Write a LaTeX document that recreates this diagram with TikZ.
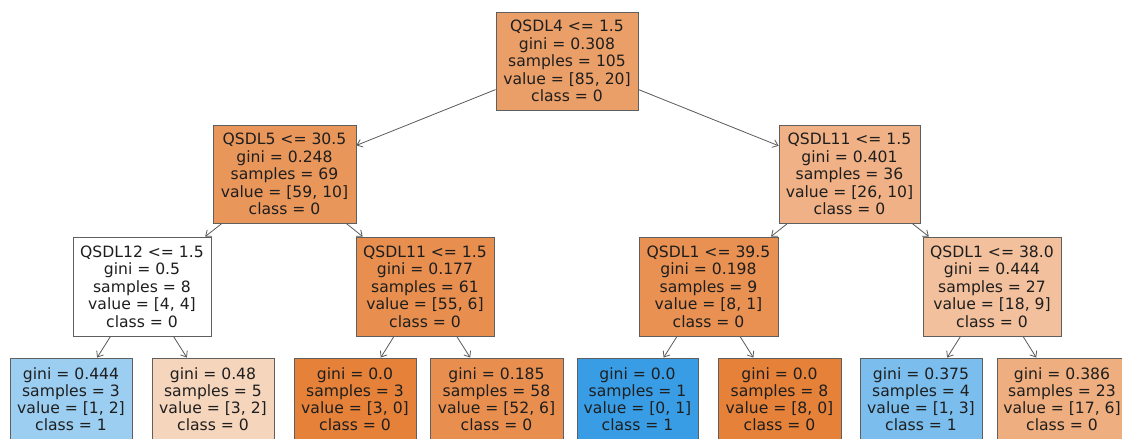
\documentclass[tikz,border=0pt]{standalone}
\usepackage{fontspec}
\setmainfont{DejaVu Sans}
\usetikzlibrary{arrows.meta}
\definecolor{boxgray}{RGB}{95,95,95}
\definecolor{arrgray}{RGB}{90,90,90}
\definecolor{txt}{RGB}{30,30,30}
\definecolor{cRoot}{RGB}{235,159,104}
\definecolor{cA}{RGB}{233,150,91}
\definecolor{cB}{RGB}{239,177,133}
\definecolor{cC}{RGB}{255,255,255}
\definecolor{cD}{RGB}{232,143,79}
\definecolor{cE}{RGB}{232,145,82}
\definecolor{cF}{RGB}{242,192,156}
\definecolor{cL1}{RGB}{156,206,242}
\definecolor{cL2}{RGB}{246,213,189}
\definecolor{cL3}{RGB}{229,129,57}
\definecolor{cL4}{RGB}{232,143,80}
\definecolor{cL5}{RGB}{57,157,229}
\definecolor{cL6}{RGB}{229,129,57}
\definecolor{cL7}{RGB}{123,190,238}
\definecolor{cL8}{RGB}{238,174,127}
\begin{document}
\begin{tikzpicture}[x=1pt,y=-1pt,
  tbox/.style={draw=boxgray, line width=0.9pt, inner sep=0pt, align=center,
    font=\fontsize{15.6}{17.5}\selectfont, text=txt},
  split/.style={tbox, minimum height=98pt},
  leaf/.style={tbox, minimum height=82pt, font=\fontsize{15.6}{17}\selectfont},
  edge/.style={draw=arrgray, line width=0.8pt, -{Straight Barb[length=5pt,width=8pt]}}]
\useasboundingbox (0,0) rectangle (1122,439);
\clip (0,0) rectangle (1122,439);
\fill[white] (0,0) rectangle (1122,439);
% level 0
\node[split, fill=cRoot, minimum width=142pt] (root) at (567,61)
  {QSDL4 <= 1.5\\gini = 0.308\\samples = 105\\value = [85, 20]\\class = 0};
% level 1
\node[split, fill=cA, minimum width=143pt] (n5) at (284.5,174)
  {QSDL5 <= 30.5\\gini = 0.248\\samples = 69\\value = [59, 10]\\class = 0};
\node[split, fill=cB, minimum width=141pt] (n11a) at (849.5,174)
  {QSDL11 <= 1.5\\gini = 0.401\\samples = 36\\value = [26, 10]\\class = 0};
% level 2
\node[split, fill=cC, minimum width=138pt, minimum height=99pt] (n12) at (142,286.5)
  {QSDL12 <= 1.5\\gini = 0.5\\samples = 8\\value = [4, 4]\\class = 0};
\node[split, fill=cD, minimum width=138pt, minimum height=99pt] (n11b) at (425,286.5)
  {QSDL11 <= 1.5\\gini = 0.177\\samples = 61\\value = [55, 6]\\class = 0};
\node[split, fill=cE, minimum width=139pt, minimum height=99pt] (n1a) at (708.5,286.5)
  {QSDL1 <= 39.5\\gini = 0.198\\samples = 9\\value = [8, 1]\\class = 0};
\node[split, fill=cF, minimum width=138pt, minimum height=99pt] (n1b) at (992,286.5)
  {QSDL1 <= 38.0\\gini = 0.444\\samples = 27\\value = [18, 9]\\class = 0};
% leaves
\node[leaf, fill=cL1, minimum width=122pt] (l1) at (71,399)
  {gini = 0.444\\samples = 3\\value = [1, 2]\\class = 1};
\node[leaf, fill=cL2, minimum width=122pt] (l2) at (213,399)
  {gini = 0.48\\samples = 5\\value = [3, 2]\\class = 0};
\node[leaf, fill=cL3, minimum width=122pt] (l3) at (355,399)
  {gini = 0.0\\samples = 3\\value = [3, 0]\\class = 0};
\node[leaf, fill=cL4, minimum width=133pt] (l4) at (496.5,399)
  {gini = 0.185\\samples = 58\\value = [52, 6]\\class = 0};
\node[leaf, fill=cL5, minimum width=121pt] (l5) at (637.5,399)
  {gini = 0.0\\samples = 1\\value = [0, 1]\\class = 1};
\node[leaf, fill=cL6, minimum width=123pt] (l6) at (779.5,399)
  {gini = 0.0\\samples = 8\\value = [8, 0]\\class = 0};
\node[leaf, fill=cL7, minimum width=122pt] (l7) at (921,399)
  {gini = 0.375\\samples = 4\\value = [1, 3]\\class = 1};
\node[leaf, fill=cL8, minimum width=130pt] (l8) at (1062,399)
  {gini = 0.386\\samples = 23\\value = [17, 6]\\class = 0};
% edges
\draw[edge] (root) -- (n5);
\draw[edge] (root) -- (n11a);
\draw[edge] (n5) -- (n12);
\draw[edge] (n5) -- (n11b);
\draw[edge] (n11a) -- (n1a);
\draw[edge] (n11a) -- (n1b);
\draw[edge] (n12) -- (l1);
\draw[edge] (n12) -- (l2);
\draw[edge] (n11b) -- (l3);
\draw[edge] (n11b) -- (l4);
\draw[edge] (n1a) -- (l5);
\draw[edge] (n1a) -- (l6);
\draw[edge] (n1b) -- (l7);
\draw[edge] (n1b) -- (l8);
\end{tikzpicture}
\end{document}
